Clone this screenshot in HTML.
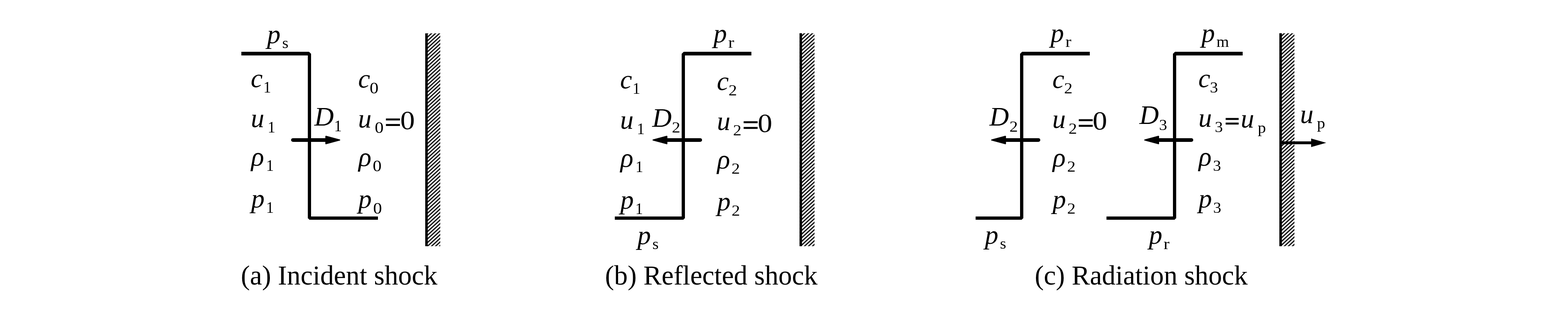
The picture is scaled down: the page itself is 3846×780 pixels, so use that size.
<!DOCTYPE html>
<html><head><meta charset="utf-8"><title>Shock diagram</title>
<style>
html,body{margin:0;padding:0;background:#fff;overflow:hidden;}
svg{display:block;filter:grayscale(1);}
text{font-family:"Liberation Serif",serif;fill:#000;}
</style></head><body>
<svg width="3846" height="780" viewBox="0 0 3846 780">
<defs>
<pattern id="ha" patternUnits="userSpaceOnUse" width="20" height="6.635" patternTransform="translate(1049.2,387.4) rotate(-42.5)"><rect x="0" y="0" width="20" height="1.45"/><rect x="0" y="5.185" width="20" height="1.45"/></pattern>
<pattern id="hb" patternUnits="userSpaceOnUse" width="20" height="6.635" patternTransform="translate(1967.2,393.4) rotate(-42.5)"><rect x="0" y="0" width="20" height="1.45"/><rect x="0" y="5.185" width="20" height="1.45"/></pattern>
<pattern id="hc" patternUnits="userSpaceOnUse" width="20" height="6.635" patternTransform="translate(3144.2,393.4) rotate(-42.5)"><rect x="0" y="0" width="20" height="1.45"/><rect x="0" y="5.185" width="20" height="1.45"/></pattern>
</defs>
<rect width="3846" height="780" fill="#fff"/>
<text x="655.0" y="105.7" font-size="66" font-style="italic">p</text>
<text transform="translate(692.19,117.63) scale(1.030,1.000)" font-size="38">s</text>
<text x="615.1" y="214.1" font-size="66" font-style="italic">c</text>
<text transform="translate(645.88,227.30) scale(0.960,1.000)" font-size="39.4">1</text>
<text x="878.5" y="215.1" font-size="66" font-style="italic">c</text>
<text transform="translate(906.65,228.81) scale(1.080,1.000)" font-size="40">0</text>
<text x="615.3" y="311.7" font-size="66" font-style="italic">u</text>
<text transform="translate(656.58,324.70) scale(0.960,1.000)" font-size="39.4">1</text>
<text x="878.3" y="313.2" font-size="66" font-style="italic">u</text>
<text transform="translate(919.25,326.21) scale(1.080,1.000)" font-size="40">0</text>
<rect x="946.6" y="290.6" width="34.4" height="4.8"/>
<rect x="946.6" y="304.2" width="34.4" height="4.8"/>
<text transform="translate(981.78,316.76) scale(1.087,1.000)" font-size="65.8">0</text>
<text x="771.0" y="307.5" font-size="66" font-style="italic">D</text>
<text transform="translate(819.58,321.80) scale(0.960,1.000)" font-size="39.4">1</text>
<text x="615.9" y="406.0" font-size="66" font-style="italic">ρ</text>
<text transform="translate(652.68,418.90) scale(0.960,1.000)" font-size="39.4">1</text>
<text x="879.3" y="407.2" font-size="66" font-style="italic">ρ</text>
<text transform="translate(914.35,420.41) scale(1.080,1.000)" font-size="40">0</text>
<text x="616.0" y="509.0" font-size="66" font-style="italic">p</text>
<text transform="translate(652.68,522.20) scale(0.960,1.000)" font-size="39.4">1</text>
<text x="878.8" y="510.0" font-size="66" font-style="italic">p</text>
<text transform="translate(915.35,523.71) scale(1.080,1.000)" font-size="40">0</text>
<text x="1749.9" y="104.1" font-size="66" font-style="italic">p</text>
<text transform="translate(1786.13,117.00) scale(1.150,1.000)" font-size="38">r</text>
<text x="1520.9" y="217.0" font-size="66" font-style="italic">c</text>
<text transform="translate(1551.58,230.30) scale(0.960,1.000)" font-size="39.4">1</text>
<text x="1758.3" y="220.9" font-size="66" font-style="italic">c</text>
<text transform="translate(1786.88,233.80) scale(1.070,1.000)" font-size="38.6">2</text>
<text x="1520.9" y="315.6" font-size="66" font-style="italic">u</text>
<text transform="translate(1562.28,328.70) scale(0.960,1.000)" font-size="39.4">1</text>
<text x="1599.8" y="310.5" font-size="66" font-style="italic">D</text>
<text transform="translate(1647.98,324.70) scale(1.070,1.000)" font-size="38.6">2</text>
<text x="1758.5" y="318.6" font-size="66" font-style="italic">u</text>
<text transform="translate(1797.98,331.80) scale(1.070,1.000)" font-size="38.6">2</text>
<rect x="1824.0" y="297.4" width="34.3" height="4.8"/>
<rect x="1824.0" y="311.4" width="34.3" height="4.8"/>
<text transform="translate(1858.58,323.66) scale(1.096,1.000)" font-size="65.2">0</text>
<text x="1521.7" y="408.9" font-size="66" font-style="italic">ρ</text>
<text transform="translate(1558.68,421.70) scale(0.960,1.000)" font-size="39.4">1</text>
<text x="1759.1" y="412.9" font-size="66" font-style="italic">ρ</text>
<text transform="translate(1794.28,425.70) scale(1.070,1.000)" font-size="38.6">2</text>
<text x="1521.6" y="511.5" font-size="66" font-style="italic">p</text>
<text transform="translate(1558.28,525.10) scale(0.960,1.000)" font-size="39.4">1</text>
<text x="1758.9" y="515.9" font-size="66" font-style="italic">p</text>
<text transform="translate(1794.48,528.70) scale(1.070,1.000)" font-size="38.6">2</text>
<text x="1563.5" y="598.5" font-size="66" font-style="italic">p</text>
<text transform="translate(1600.19,610.53) scale(1.030,1.000)" font-size="38">s</text>
<text x="2576.8" y="103.2" font-size="66" font-style="italic">p</text>
<text transform="translate(2613.33,115.00) scale(1.150,1.000)" font-size="38">r</text>
<text x="2946.9" y="103.2" font-size="66" font-style="italic">p</text>
<text transform="translate(2983.87,115.00) scale(1.040,1.000)" font-size="38">m</text>
<text x="2581.2" y="215.7" font-size="66" font-style="italic">c</text>
<text transform="translate(2609.88,228.70) scale(1.070,1.000)" font-size="38.6">2</text>
<text x="2939.2" y="213.7" font-size="66" font-style="italic">c</text>
<text transform="translate(2967.71,226.73) scale(1.040,1.000)" font-size="38">3</text>
<text x="2426.9" y="308.4" font-size="66" font-style="italic">D</text>
<text transform="translate(2476.08,322.70) scale(1.070,1.000)" font-size="38.6">2</text>
<text x="2581.0" y="314.2" font-size="66" font-style="italic">u</text>
<text transform="translate(2620.98,327.70) scale(1.070,1.000)" font-size="38.6">2</text>
<rect x="2646.0" y="292.4" width="34.2" height="4.8"/>
<rect x="2646.0" y="306.2" width="34.2" height="4.8"/>
<text transform="translate(2680.09,318.35) scale(1.073,1.000)" font-size="66.4">0</text>
<text x="2794.7" y="304.4" font-size="66" font-style="italic">D</text>
<text transform="translate(2842.91,318.63) scale(1.040,1.000)" font-size="38">3</text>
<text x="2939.4" y="311.0" font-size="66" font-style="italic">u</text>
<text transform="translate(2979.81,324.33) scale(1.040,1.000)" font-size="38">3</text>
<rect x="3006.3" y="289.4" width="31.9" height="4.8"/>
<rect x="3006.3" y="300.7" width="31.9" height="4.8"/>
<text x="3043.3" y="313.0" font-size="66" font-style="italic">u</text>
<text transform="translate(3084.95,326.30) scale(1.060,1.000)" font-size="38">p</text>
<text x="3188.7" y="302.1" font-size="66" font-style="italic">u</text>
<text transform="translate(3230.35,315.00) scale(1.060,1.000)" font-size="38">p</text>
<text x="2582.0" y="407.7" font-size="66" font-style="italic">ρ</text>
<text transform="translate(2617.38,420.70) scale(1.070,1.000)" font-size="38.6">2</text>
<text x="2940.0" y="406.0" font-size="66" font-style="italic">ρ</text>
<text transform="translate(2975.31,418.63) scale(1.040,1.000)" font-size="38">3</text>
<text x="2581.8" y="510.5" font-size="66" font-style="italic">p</text>
<text transform="translate(2617.38,524.30) scale(1.070,1.000)" font-size="38.6">2</text>
<text x="2939.8" y="509.0" font-size="66" font-style="italic">p</text>
<text transform="translate(2975.71,521.93) scale(1.040,1.000)" font-size="38">3</text>
<text x="2415.7" y="598.1" font-size="66" font-style="italic">p</text>
<text transform="translate(2452.69,610.33) scale(1.030,1.000)" font-size="38">s</text>
<text x="2818.0" y="598.1" font-size="66" font-style="italic">p</text>
<text transform="translate(2853.93,610.70) scale(1.150,1.000)" font-size="38">r</text>
<text transform="translate(590.76,697.90) scale(1.0015,1)" font-size="66.7">(a) Incident shock</text>
<text transform="translate(1483.97,697.90) scale(0.9986,1)" font-size="66.7">(b) Reflected shock</text>
<text transform="translate(2537.97,697.90) scale(1.0002,1)" font-size="66.7">(c) Radiation shock</text>
<polygon points="592,127 758,127 763,132 763,531 927,531 927,539 759,539 755,535 755,136 592,136"/>
<polygon points="1677,127 1843,127 1843,136 1680,136 1680,535 1676,539 1508,539 1508,531 1672,531 1672,132"/>
<polygon points="2507,127 2673,127 2673,136 2510,136 2510,535 2506,539 2393,539 2393,531 2502,531 2502,132"/>
<polygon points="2882,127 3048,127 3048,136 2885,136 2885,535 2881,539 2714,539 2714,531 2877,531 2877,132"/>
<line x1="718.5" y1="343.4" x2="798" y2="343.4" stroke="#000" stroke-width="9" stroke-linecap="round"/>
<polygon points="799.5,334.4 833,343.4 799.5,352.4" stroke="#000" stroke-width="3" stroke-linejoin="round"/>
<line x1="1717.5" y1="343.4" x2="1637" y2="343.4" stroke="#000" stroke-width="9" stroke-linecap="round"/>
<polygon points="1635.5,334.4 1602,343.4 1635.5,352.4" stroke="#000" stroke-width="3" stroke-linejoin="round"/>
<line x1="2547.1" y1="343.4" x2="2467.5" y2="343.4" stroke="#000" stroke-width="9" stroke-linecap="round"/>
<polygon points="2466.0,334.4 2432.5,343.4 2466.0,352.4" stroke="#000" stroke-width="3" stroke-linejoin="round"/>
<line x1="2922.3" y1="343.4" x2="2843" y2="343.4" stroke="#000" stroke-width="9" stroke-linecap="round"/>
<polygon points="2841.5,334.4 2808,343.4 2841.5,352.4" stroke="#000" stroke-width="3" stroke-linejoin="round"/>
<line x1="3141" y1="350.2" x2="3217" y2="350.2" stroke="#000" stroke-width="7"/>
<polygon points="3216,339.7 3253,350.2 3216,360.7"/>
<rect x="1043.0" y="81.8" width="36.90000000000009" height="522.0" fill="url(#ha)"/>
<rect x="1043.0" y="81.8" width="6.2000000000000455" height="522.0"/>
<rect x="1961.1" y="81.6" width="36.80000000000018" height="522.1999999999999" fill="url(#hb)"/>
<rect x="1961.1" y="81.6" width="6.100000000000136" height="522.1999999999999"/>
<rect x="3138.0" y="81.6" width="37.0" height="522.1999999999999" fill="url(#hc)"/>
<rect x="3138.0" y="81.6" width="6.199999999999818" height="522.1999999999999"/>
</svg>
</body></html>
